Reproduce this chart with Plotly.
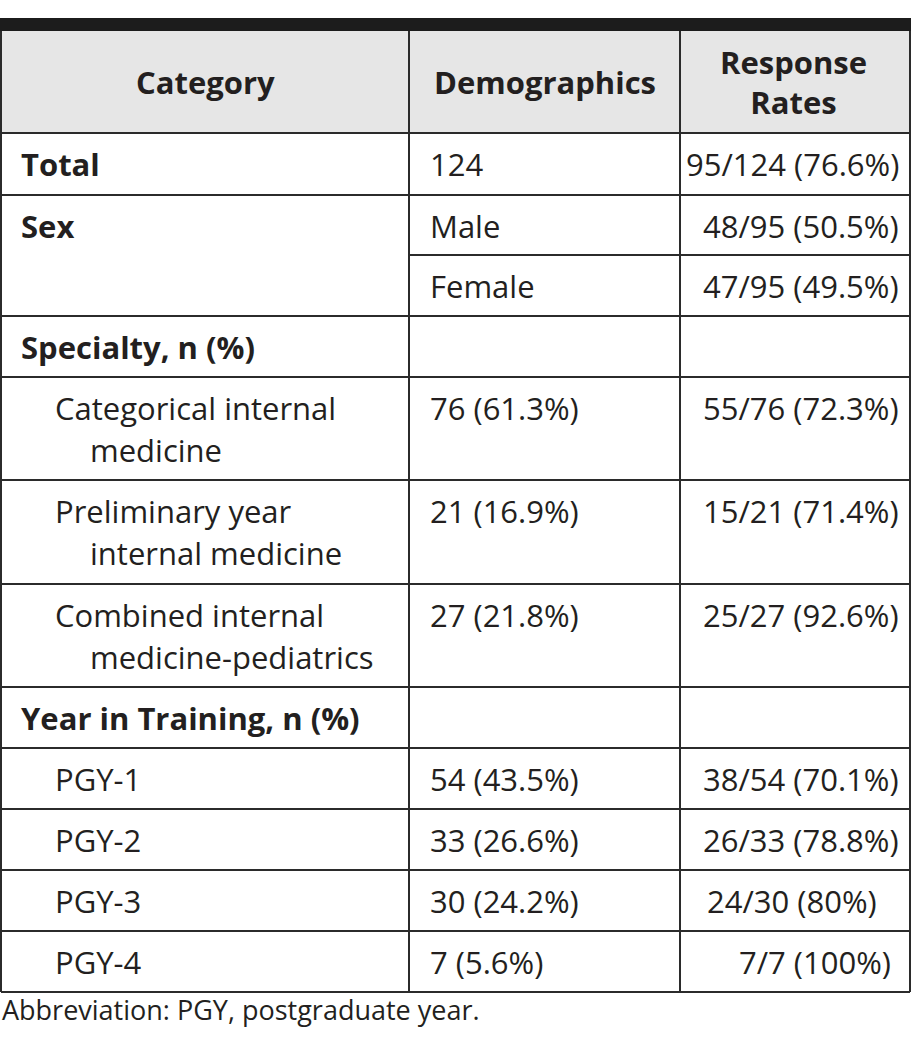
import plotly.graph_objects as go

# ---------------- data ----------------
header_labels = ["Category", "Demographics", "Response<br>Rates"]

category_labels = [
    "Total",
    "Sex",
    "",
    "Specialty, n (%)",
    "Categorical internal\nmedicine",
    "Preliminary year\ninternal medicine",
    "Combined internal\nmedicine-pediatrics",
    "Year in Training, n (%)",
    "PGY-1",
    "PGY-2",
    "PGY-3",
    "PGY-4",
]
demographics = [
    "124", "Male", "Female", "", "76 (61.3%)", "21 (16.9%)", "27 (21.8%)",
    "", "54 (43.5%)", "33 (26.6%)", "30 (24.2%)", "7 (5.6%)",
]
response_rates = [
    "95/124 (76.6%)", "48/95 (50.5%)", "47/95 (49.5%)", "",
    "55/76 (72.3%)", "15/21 (71.4%)", "25/27 (92.6%)", "",
    "38/54 (70.1%)", "26/33 (78.8%)", "24/30 (80%)", "7/7 (100%)",
]
footnote = "Abbreviation: PGY, postgraduate year."

# ---------------- styles / geometry ----------------
W, H = 913, 1058
FONT = "Open Sans"
TXT = "#231f20"
LINE = "#2b2b2b"
HEADER_FILL = "#e6e6e6"
FS = 31

col_x = [1, 409, 680, 910]
top_bar = (18, 31)
header_bottom = 133
row_bounds = [133, 195, 255, 316, 377, 480, 584, 687, 748, 809, 870, 931, 992]
bold_rows = {0, 1, 3, 7}
indent_rows = {4, 5, 6, 8, 9, 10, 11}
merged_next = {1}
rr_place = [
    (901, "right"), (901, "right"), (901, "right"), (901, "right"),
    (901, "right"), (901, "right"), (901, "right"), (901, "right"),
    (901, "right"), (901, "right"), (705, "left"), (893, "right"),
]

fig = go.Figure()
shapes = []
annotations = []

shapes.append(dict(type="rect", xref="x", yref="y", x0=col_x[0], x1=col_x[3],
                   y0=top_bar[1], y1=header_bottom, fillcolor=HEADER_FILL,
                   line=dict(width=0), layer="below"))
shapes.append(dict(type="rect", xref="x", yref="y", x0=0, x1=911,
                   y0=top_bar[0], y1=top_bar[1], fillcolor="#1c1c1c",
                   line=dict(width=0)))

def hline(y, x0, x1):
    shapes.append(dict(type="line", xref="x", yref="y", x0=x0, x1=x1, y0=y, y1=y,
                       line=dict(color=LINE, width=2)))

def vline(x, y0, y1):
    shapes.append(dict(type="line", xref="x", yref="y", x0=x, x1=x, y0=y0, y1=y1,
                       line=dict(color=LINE, width=2)))

hline(header_bottom, col_x[0], col_x[3])
for i in range(1, len(row_bounds)):
    y = row_bounds[i]
    if (i - 1) in merged_next:
        hline(y, col_x[1], col_x[3])
    else:
        hline(y, col_x[0], col_x[3])
for x in col_x:
    vline(x, top_bar[1], row_bounds[-1])

def ann(x, y, text, anchor, bold=False, size=FS):
    if bold:
        text = "<b>" + text + "</b>"
    annotations.append(dict(xref="x", yref="y", x=x, y=y, text=text, showarrow=False,
                            xanchor=anchor, yanchor="middle", align=anchor,
                            font=dict(family=FONT, size=size, color=TXT)))

hc = (top_bar[1] + header_bottom) / 2
ann((col_x[0] + col_x[1]) / 2, hc, header_labels[0], "center", True)
ann((col_x[1] + col_x[2]) / 2, hc, header_labels[1], "center", True)
ann((col_x[2] + col_x[3]) / 2 - 2, hc, header_labels[2], "center", True)

LINE_GAP = 42
for i, lab in enumerate(category_labels):
    top = row_bounds[i]
    yc = top + 31
    if lab:
        lines = lab.split("\n")
        for k, ln in enumerate(lines):
            if i in indent_rows:
                x = 53 if k == 0 else 88
            else:
                x = 19
            ann(x, yc + k * LINE_GAP, ln, "left", i in bold_rows)
    if demographics[i]:
        ann(428, yc, demographics[i], "left")
    if response_rates[i]:
        x, a = rr_place[i]
        ann(x, yc, response_rates[i], a)

ann(0, 1009, footnote, "left", size=27)

fig.update_layout(
    width=W, height=H, margin=dict(l=0, r=0, t=0, b=0),
    paper_bgcolor="white", plot_bgcolor="white",
    xaxis=dict(range=[0, W], visible=False, fixedrange=True),
    yaxis=dict(range=[H, 0], visible=False, fixedrange=True),
    shapes=shapes, annotations=annotations, showlegend=False,
)
fig.write_html("out.html", config={"displayModeBar": False},
               post_script="document.body.style.margin='0';document.body.style.padding='0';")
